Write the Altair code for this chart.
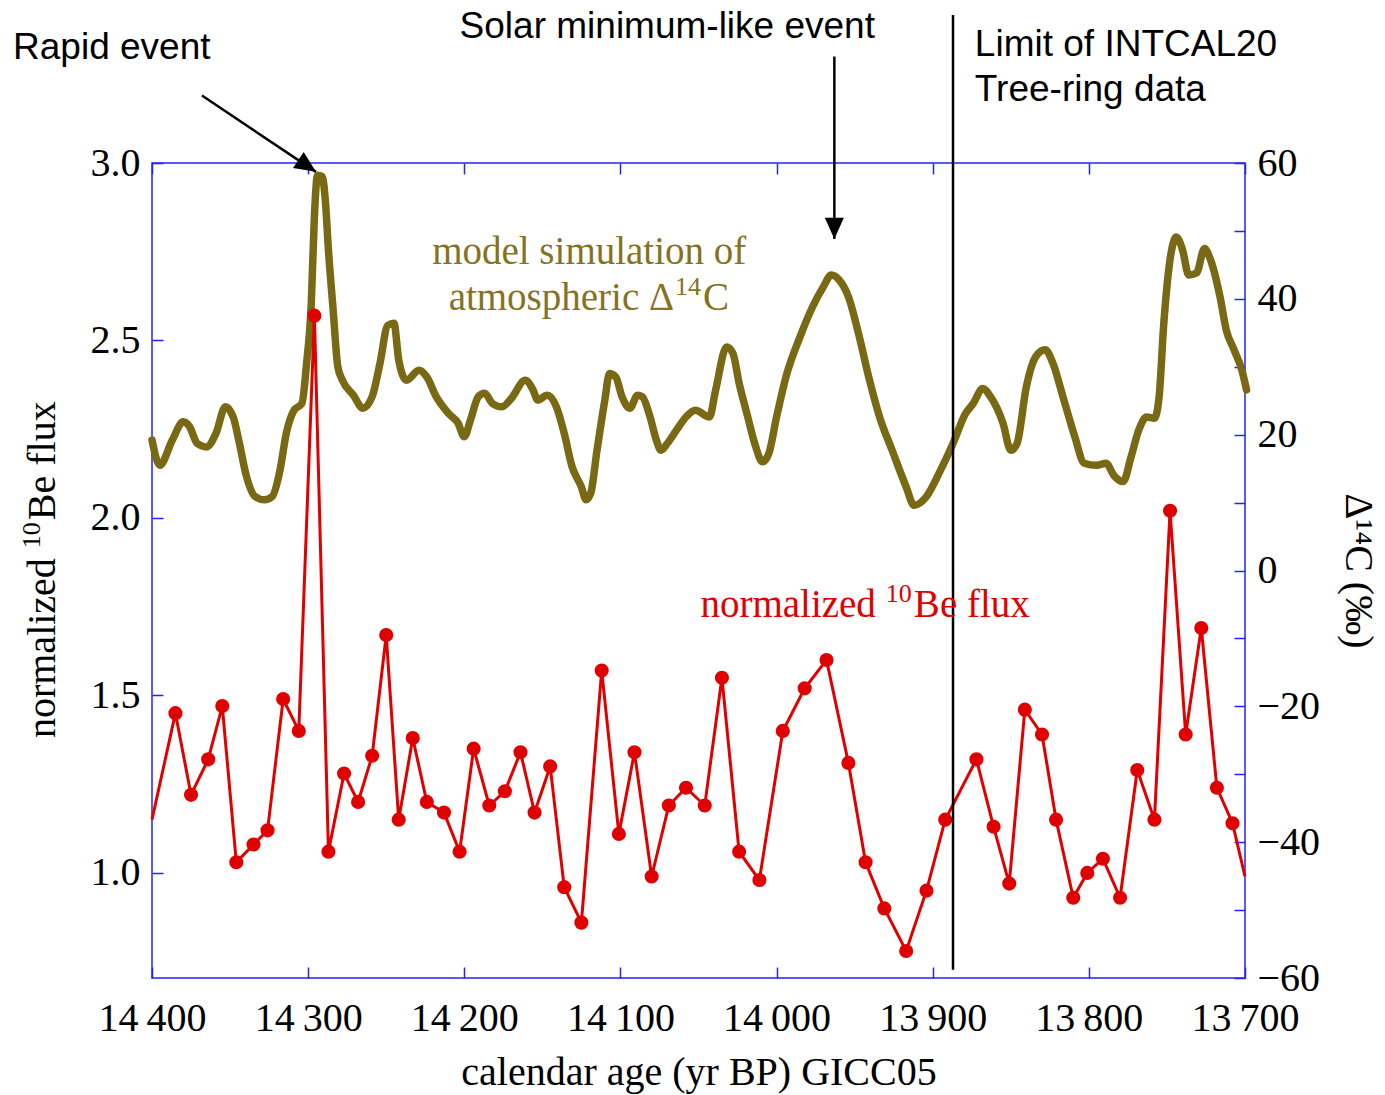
import altair as alt
import pandas as pd

SERIF = "Liberation Serif"
SANS = "Liberation Sans"
BLUE = "#2323ff"
OLIVE = "#7a6914"
OLIVE_TXT = "#857222"
RED = "#e00000"

# Normalized 10Be flux (calendar age, yr BP GICC05)
be_year = [14400, 14385, 14375, 14364, 14355, 14346, 14335, 14326, 14316, 14306, 14296,
           14287, 14277, 14268, 14259, 14250, 14242, 14233, 14224, 14213, 14203, 14194,
           14184, 14174, 14164, 14155, 14145, 14136, 14125, 14112, 14101, 14091, 14080,
           14069, 14058, 14046, 14035, 14024, 14011, 13996, 13982, 13968, 13954, 13943,
           13931, 13917, 13904, 13892, 13872, 13861, 13851, 13841, 13830, 13821, 13810,
           13801, 13791, 13780, 13769, 13758, 13748, 13738, 13728, 13718, 13708, 13700]
be_flux = [1.15, 1.45, 1.22, 1.32, 1.47, 1.03, 1.08, 1.12, 1.49, 1.40, 2.57,
           1.06, 1.28, 1.20, 1.33, 1.67, 1.15, 1.38, 1.20, 1.17, 1.06, 1.35,
           1.19, 1.23, 1.34, 1.17, 1.30, 0.96, 0.86, 1.57, 1.11, 1.34, 0.99,
           1.19, 1.24, 1.19, 1.55, 1.06, 0.98, 1.40, 1.52, 1.60, 1.31, 1.03,
           0.90, 0.78, 0.95, 1.15, 1.32, 1.13, 0.97, 1.46, 1.39, 1.15, 0.93,
           1.00, 1.04, 0.93, 1.29, 1.15, 2.02, 1.39, 1.69, 1.24, 1.14, 0.99]

# Model simulation of atmospheric Delta14C (permil)
c14_year = [14400, 14395, 14387, 14380, 14376, 14371, 14365, 14359, 14353, 14348,
            14344, 14340, 14334, 14328, 14323, 14318, 14314, 14309, 14304, 14301,
            14298, 14296, 14294, 14291, 14289, 14287, 14284, 14281, 14278, 14271,
            14265, 14259, 14254, 14249, 14245, 14242, 14237, 14229, 14224, 14218,
            14210, 14204, 14200, 14196, 14191, 14187, 14182, 14176, 14170, 14161,
            14156, 14153, 14147, 14141, 14136, 14131, 14125, 14122, 14119, 14115,
            14110, 14107, 14103, 14099, 14094, 14089, 14086, 14081, 14077, 14074,
            14070, 14064, 14058, 14052, 14043, 14039, 14032, 14028, 14024, 14019,
            14014, 14009, 14005, 14000, 13994, 13985, 13977, 13970, 13965, 13960,
            13954, 13947, 13941, 13934, 13926, 13917, 13912, 13904, 13896, 13887,
            13879, 13874, 13868, 13863, 13855, 13850, 13846, 13840, 13834, 13828,
            13823, 13816, 13809, 13803, 13795, 13789, 13784, 13778, 13773, 13768,
            13763, 13758, 13755, 13752, 13747, 13744, 13740, 13736, 13731, 13726,
            13722, 13716, 13712, 13707, 13702, 13699]
c14_val = [19.2, 15.5, 19.2, 21.9, 21.2, 18.7, 18.2, 20.2, 24.1, 22.6,
           18.7, 14.3, 10.9, 10.4, 10.9, 14.8, 20.2, 23.6, 24.6, 30.5,
           39.3, 52.1, 58.2, 58.0, 54.5, 47.2, 38.4, 30.0, 28.0, 25.8,
           23.9, 25.6, 30.5, 36.1, 36.4, 31.0, 28.0, 29.5, 28.5, 25.6,
           23.1, 21.7, 19.7, 22.2, 25.6, 26.1, 24.6, 24.1, 25.3, 28.0,
           26.6, 25.1, 25.8, 24.1, 20.2, 15.3, 12.3, 10.4, 11.4, 17.7,
           25.1, 29.0, 28.5, 25.6, 23.9, 25.8, 25.6, 22.6, 19.2, 17.7,
           18.7, 20.7, 22.6, 23.6, 22.6, 26.6, 32.9, 32.0, 27.6, 23.1,
           18.7, 16.0, 17.2, 22.6, 28.5, 34.4, 38.8, 41.8, 43.5, 42.8,
           40.3, 34.4, 28.5, 22.6, 17.7, 12.3, 9.6, 10.9, 14.3, 18.7,
           23.1, 24.6, 26.8, 25.6, 21.7, 17.7, 18.7, 27.1, 31.5, 32.5,
           30.5, 25.1, 19.7, 15.8, 15.5, 15.8, 14.0, 13.1, 16.7, 20.7,
           22.6, 22.4, 25.6, 36.4, 47.2, 49.1, 47.2, 43.5, 43.8, 47.4,
           45.7, 40.3, 35.4, 32.5, 29.5, 26.6]

# Axis ticks
x_ticks = [14400, 14300, 14200, 14100, 14000, 13900, 13800, 13700]
left_ticks = [1.0, 1.5, 2.0, 2.5, 3.0]
right_ticks = [-60, -50, -40, -30, -20, -10, 0, 10, 20, 30, 40, 50, 60]

# Limit of the INTCAL20 tree-ring data
limit_year = [13887]
limit_span = [3.417, 0.727]

# Annotation arrows (tail -> head, in data units)
arrow_x0 = [14368, 13963]
arrow_y0 = [3.19, 3.30]
arrow_x1 = [14295, 13963]
arrow_y1 = [2.975, 2.786]
arrow_angle = [34, 90]

# Annotation texts
ann_text = ["Rapid event", "Solar minimum-like event", "Limit of INTCAL20", "Tree-ring data"]
ann_year = [14489, 14203, 13873, 13873]
ann_val = [3.324, 3.383, 3.332, 3.206]

# Series labels; superscripts are set as separate pieces
model_line1 = "model simulation of"
model_line1_pos = (14120, 2.749)
model_line2 = ["atmospheric \u0394", "14", "C"]
model_line2_pos = (14065, 2.586)
be_parts = ["normalized", "10", "Be flux"]
be_label_pos = (13930, 1.721)
be_title_pos = (14462, 1.915)

be = pd.DataFrame({"year": be_year, "flux": be_flux})
c14 = pd.DataFrame({"year": c14_year, "d14c": c14_val})
limit_df = pd.DataFrame({"year": limit_year, "y0": [limit_span[0]], "y1": [limit_span[1]]})
arrows = pd.DataFrame({"x0": arrow_x0, "y0": arrow_y0, "x1": arrow_x1, "y1": arrow_y1,
                       "ang": arrow_angle})
ann = pd.DataFrame({"t": ann_text, "year": ann_year, "v": ann_val})

x_scale = alt.Scale(domain=[13700, 14400], reverse=True, nice=False, zero=False)
left_scale = alt.Scale(domain=[0.704, 3.0], nice=False, zero=False)
right_scale = alt.Scale(domain=[-60, 60], nice=False, zero=False)

# Inward ticks: each axis is pulled inside the frame by its tick length
common = dict(grid=False, domain=False, offset=-11, tickSize=11, tickColor=BLUE,
              tickWidth=1.5, labelFont=SERIF, labelFontSize=40, labelColor="black",
              labelFlush=False, labelOverlap=False, titleFont=SERIF, titleFontSize=40,
              titleFontWeight="normal", titleColor="black")

x_bottom = alt.Axis(orient="bottom", values=x_ticks,
                    labelExpr="replace(format(datum.value, ','), ',', '\u2009')",
                    labelPadding=20, title="calendar age (yr BP) GICC05",
                    titlePadding=14, **common)
x_top = alt.Axis(orient="top", values=x_ticks, labels=False, title=None, **common)
y_left = alt.Axis(orient="left", values=left_ticks, format=".1f", labelPadding=12,
                  title=None, **common)
y_right = alt.Axis(orient="right", values=right_ticks,
                   labelExpr="datum.value % 20 == 0 ? datum.label : ''",
                   labelPadding=12, title="\u0394\u00b9\u2074C (\u2030)", titlePadding=18,
                   **common)


def X(f):
    return alt.X(f, type="quantitative", scale=x_scale, axis=None)


def YL(f):
    return alt.Y(f, type="quantitative", scale=left_scale, axis=None)


def sup_text(parts, pos, color, size, angle=0, gap=10):
    """Text with a raised, smaller middle piece, anchored at the superscript start."""
    df = pd.DataFrame({"year": [pos[0]], "v": [pos[1]]})
    base = alt.Chart(df).encode(x=X("year"), y=YL("v"))
    small = round(size * 0.66)
    style = dict(font=SERIF, color=color, baseline="alphabetic", angle=angle)
    head = base.mark_text(text=parts[0], fontSize=size, align="right", dx=-gap, **style)
    sup = base.mark_text(text=parts[1], fontSize=small, align="left", dx=0,
                         dy=-round(size * 0.38), **style)
    tail = base.mark_text(text=parts[2], fontSize=size, align="left",
                          dx=small * len(parts[1]) // 2 + 2, **style)
    return [head, sup, tail]


olive = alt.Chart(c14).mark_line(
    color=OLIVE, strokeWidth=7.5, strokeJoin="round", strokeCap="round",
    interpolate="monotone"
).encode(
    x=alt.X("year:Q", scale=x_scale, axis=x_bottom),
    y=alt.Y("d14c:Q", scale=right_scale, axis=y_right),
)

red_line = alt.Chart(be).mark_line(color=RED, strokeWidth=3).encode(
    x=alt.X("year:Q", scale=x_scale, axis=x_top),
    y=alt.Y("flux:Q", scale=left_scale, axis=y_left),
)

red_pts = alt.Chart(be).transform_filter(
    "datum.year < 14400 && datum.year > 13700"
).mark_circle(color=RED, size=200, opacity=1).encode(x=X("year"), y=YL("flux"))

limit_rule = alt.Chart(limit_df).mark_rule(color="black", strokeWidth=2.5).encode(
    x=X("year"), y=YL("y0"), y2="y1"
)

arrow_lines = alt.Chart(arrows).mark_rule(color="black", strokeWidth=2.5).encode(
    x=X("x0"), x2="x1", y=YL("y0"), y2="y1"
)

arrow_heads = alt.Chart(arrows).mark_point(
    shape="M0,0L-1,-0.45L-1,0.45Z", filled=True, color="black", opacity=1, size=1800
).encode(x=X("x1"), y=YL("y1"), angle=alt.Angle("ang:Q", scale=None))

ann_txt = alt.Chart(ann).mark_text(
    font=SANS, fontSize=37, color="black", align="left", baseline="middle"
).encode(x=X("year"), y=YL("v"), text="t:N")

model_txt1 = alt.Chart(
    pd.DataFrame({"year": [model_line1_pos[0]], "v": [model_line1_pos[1]]})
).mark_text(
    text=model_line1, font=SERIF, fontSize=39, color=OLIVE_TXT, align="center",
    baseline="middle"
).encode(x=X("year"), y=YL("v"))

model_txt2 = sup_text(model_line2, model_line2_pos, OLIVE_TXT, 39, gap=1)
be_txt = sup_text(be_parts, be_label_pos, RED, 39)
be_title = sup_text(be_parts, be_title_pos, "black", 40, angle=270)

chart = alt.layer(
    olive, red_line, red_pts, limit_rule, arrow_lines, arrow_heads,
    ann_txt, model_txt1, *model_txt2, *be_txt, *be_title
).resolve_scale(y="independent").resolve_axis(x="independent", y="independent").properties(
    width=1093,
    height=815,
    autosize=alt.AutoSizeParams(type="none"),
    padding={"left": 152, "top": 163, "right": 140, "bottom": 117},
).configure(background="white").configure_view(stroke=BLUE, strokeWidth=1.5)

chart.save("out.html", embed_options={"renderer": "svg", "actions": False})
